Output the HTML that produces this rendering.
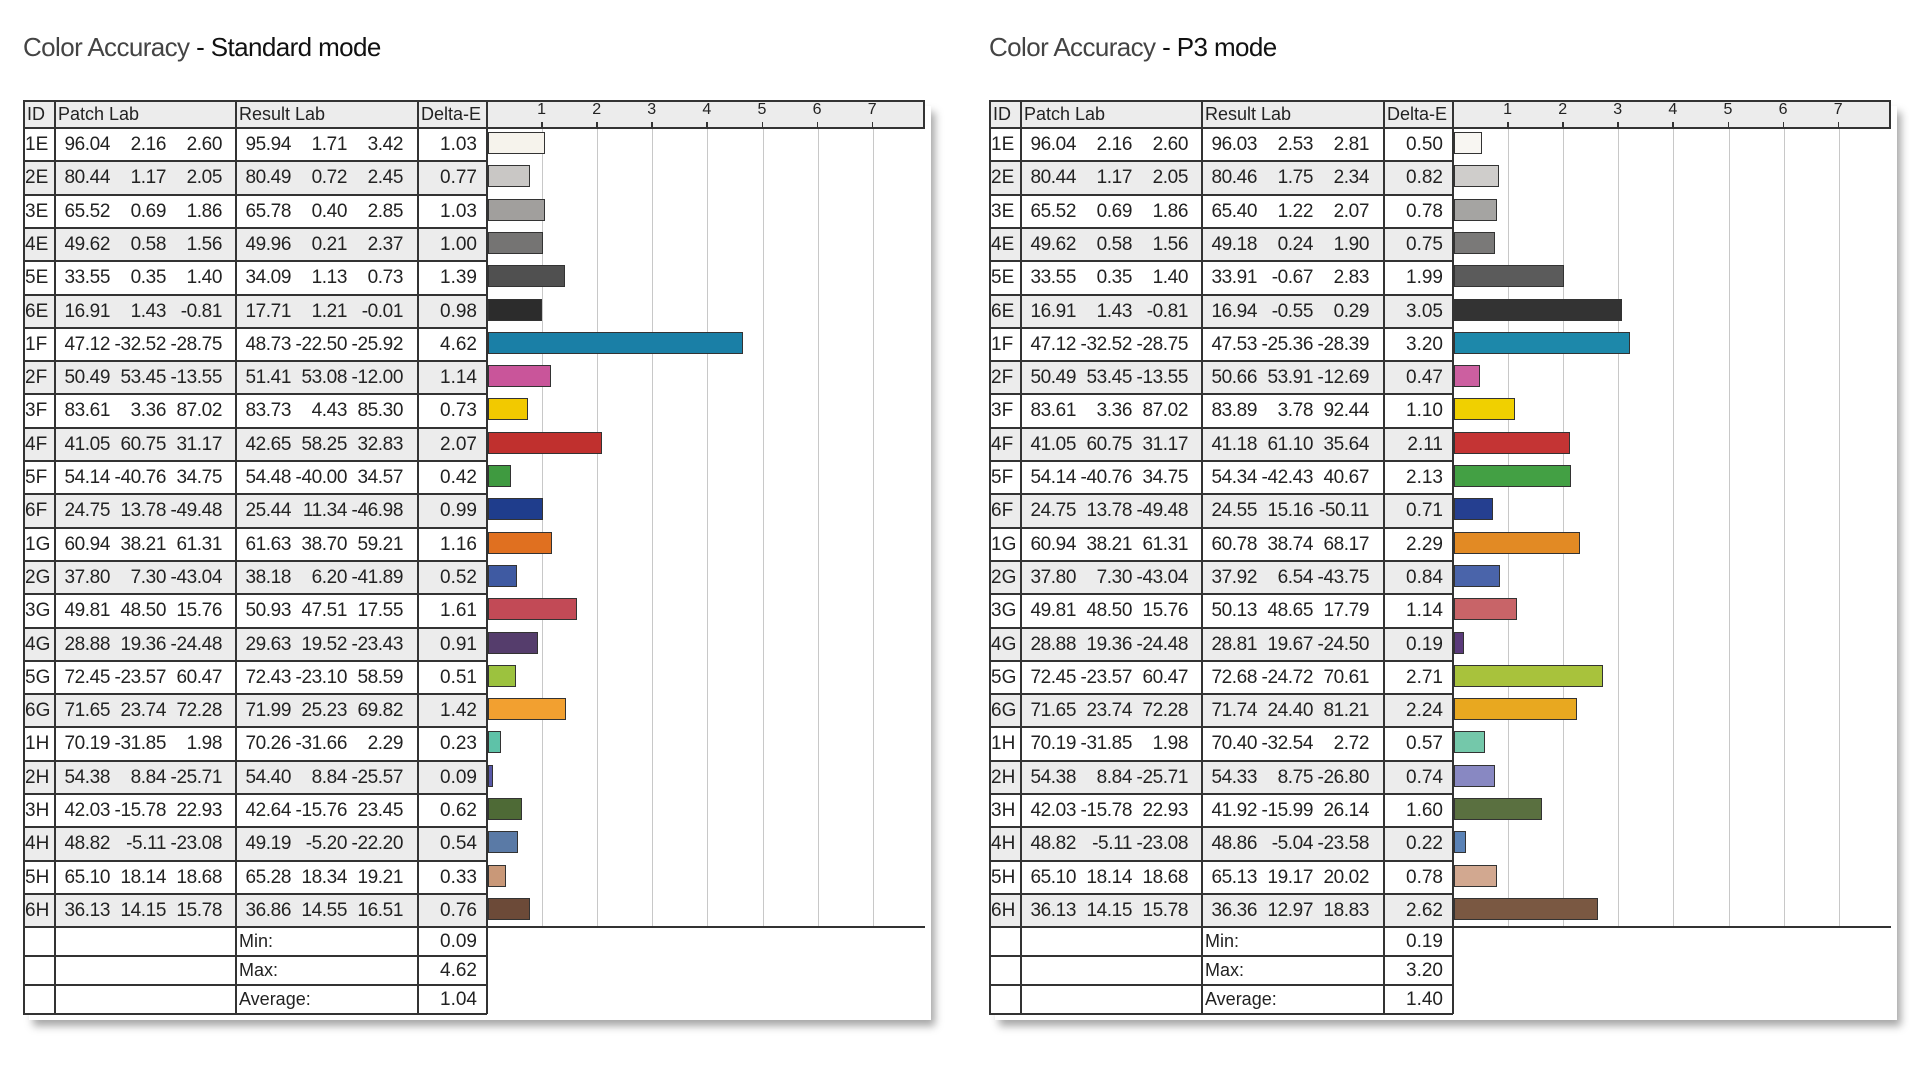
<!DOCTYPE html>
<html><head><meta charset="utf-8"><style>
body{margin:0;width:1910px;height:1074px;background:#fff;position:relative;overflow:hidden;font-family:"Liberation Sans",Arial,sans-serif;color:#222}
.a{position:absolute;white-space:nowrap}
.t{font-size:26px;top:32px;letter-spacing:-0.6px;color:#111}
</style></head><body>
<div class="a t" style="left:23px"><span style="color:#444">Color Accuracy</span> - Standard mode</div>
<div class="a t" style="left:989px"><span style="color:#444">Color Accuracy</span> - P3 mode</div>
<div id="root"></div>
<script>
var ids=["1E","2E","3E","4E","5E","6E","1F","2F","3F","4F","5F","6F","1G","2G","3G","4G","5G","6G","1H","2H","3H","4H","5H","6H"];
var patch=[[96.04,2.16,2.60],[80.44,1.17,2.05],[65.52,0.69,1.86],[49.62,0.58,1.56],[33.55,0.35,1.40],[16.91,1.43,-0.81],[47.12,-32.52,-28.75],[50.49,53.45,-13.55],[83.61,3.36,87.02],[41.05,60.75,31.17],[54.14,-40.76,34.75],[24.75,13.78,-49.48],[60.94,38.21,61.31],[37.80,7.30,-43.04],[49.81,48.50,15.76],[28.88,19.36,-24.48],[72.45,-23.57,60.47],[71.65,23.74,72.28],[70.19,-31.85,1.98],[54.38,8.84,-25.71],[42.03,-15.78,22.93],[48.82,-5.11,-23.08],[65.10,18.14,18.68],[36.13,14.15,15.78]];
var T=[
{x:23,res:[[95.94,1.71,3.42],[80.49,0.72,2.45],[65.78,0.40,2.85],[49.96,0.21,2.37],[34.09,1.13,0.73],[17.71,1.21,-0.01],[48.73,-22.50,-25.92],[51.41,53.08,-12.00],[83.73,4.43,85.30],[42.65,58.25,32.83],[54.48,-40.00,34.57],[25.44,11.34,-46.98],[61.63,38.70,59.21],[38.18,6.20,-41.89],[50.93,47.51,17.55],[29.63,19.52,-23.43],[72.43,-23.10,58.59],[71.99,25.23,69.82],[70.26,-31.66,2.29],[54.40,8.84,-25.57],[42.64,-15.76,23.45],[49.19,-5.20,-22.20],[65.28,18.34,19.21],[36.86,14.55,16.51]],
de:[1.03,0.77,1.03,1.00,1.39,0.98,4.62,1.14,0.73,2.07,0.42,0.99,1.16,0.52,1.61,0.91,0.51,1.42,0.23,0.09,0.62,0.54,0.33,0.76],
col:["#f6f3ec","#c9c7c5","#a19f9d","#757473","#505050","#2c2c2c","#1a7fa6","#c9559a","#f2c900","#c0302e","#3f9a40","#1f3d8c","#e07020","#3f5aa2","#c24a56","#553d6c","#9cc23e","#f2a030","#5ec2a8","#5858a8","#4e6a36","#5a7aa6","#c99878","#6c4a38"],
sum:["0.09","4.62","1.04"]},
{x:989,res:[[96.03,2.53,2.81],[80.46,1.75,2.34],[65.40,1.22,2.07],[49.18,0.24,1.90],[33.91,-0.67,2.83],[16.94,-0.55,0.29],[47.53,-25.36,-28.39],[50.66,53.91,-12.69],[83.89,3.78,92.44],[41.18,61.10,35.64],[54.34,-42.43,40.67],[24.55,15.16,-50.11],[60.78,38.74,68.17],[37.92,6.54,-43.75],[50.13,48.65,17.79],[28.81,19.67,-24.50],[72.68,-24.72,70.61],[71.74,24.40,81.21],[70.40,-32.54,2.72],[54.33,8.75,-26.80],[41.92,-15.99,26.14],[48.86,-5.04,-23.58],[65.13,19.17,20.02],[36.36,12.97,18.83]],
de:[0.50,0.82,0.78,0.75,1.99,3.05,3.20,0.47,1.10,2.11,2.13,0.71,2.29,0.84,1.14,0.19,2.71,2.24,0.57,0.74,1.60,0.22,0.78,2.62],
col:["#f8f6f2","#cfcdcb","#a5a4a2","#7a7978","#5b5b5b","#333333","#1d88aa","#cc5fa0","#f0d000","#c43434","#43a044","#253f90","#e28a24","#4a64aa","#c86468","#5a3a7a","#a8c23c","#e8a820","#74c8aa","#8888c2","#5a7040","#5a82b6","#d2a890","#7a5842"],
sum:["0.19","3.20","1.40"]}];
var h="",TOP=100,HH=28,RH=33.3,SH=29;
function f(v){return v.toFixed(2)}
T.forEach(function(t){
 var x=t.x,c1=x+32,c2=x+213,c3=x+395,c4=x+464,c5=x+902;
 var yEnd=TOP+HH+24*RH, yS=yEnd+3*SH;
 h+='<div class="a" style="left:'+(x+6)+'px;top:'+(TOP+6)+'px;width:'+(c5-x)+'px;height:'+(yS-TOP)+'px;box-shadow:4px 6px 8px rgba(0,0,0,.35);background:#fff"></div>';
 h+='<div class="a" style="left:'+x+'px;top:'+TOP+'px;width:'+(c5-x)+'px;height:'+(yS-TOP)+'px;background:#fff"></div>';
 h+='<div class="a" style="left:'+x+'px;top:'+TOP+'px;width:'+(c5-x)+'px;height:'+HH+'px;background:#ececec"></div>';
 for(var i=0;i<24;i++){var y=TOP+HH+i*RH;
  if(i%2==1)h+='<div class="a" style="left:'+x+'px;top:'+y+'px;width:'+(c4-x)+'px;height:'+RH+'px;background:#ececec"></div>';}
 for(var k=1;k<=7;k++){var gx=c4+k*55.1;
  h+='<div class="a" style="left:'+gx+'px;top:'+(TOP+HH)+'px;width:1px;height:'+(yEnd-TOP-HH)+'px;background:#c8c8c8"></div>';
  h+='<div class="a" style="left:'+(gx-1)+'px;top:'+(TOP+HH-6)+'px;width:1.5px;height:6px;background:#333"></div>';
  h+='<div class="a" style="left:'+(gx-5)+'px;top:'+(TOP+1)+'px;font-size:16px">'+k+'</div>';}
 for(var i=0;i<=24;i++){var y=TOP+HH+i*RH;
  h+='<div class="a" style="left:'+x+'px;top:'+(y-1)+'px;width:'+((i==0||i==24?c5:c4)-x)+'px;height:2px;background:#333"></div>';}
 for(var i=1;i<=3;i++){var y=yEnd+i*SH;
  h+='<div class="a" style="left:'+x+'px;top:'+(y-1)+'px;width:'+(c4-x)+'px;height:2px;background:#333"></div>';}
 h+='<div class="a" style="left:'+x+'px;top:'+TOP+'px;width:'+(c5-x)+'px;height:2px;background:#333"></div>';
 h+='<div class="a" style="left:'+(c5-2)+'px;top:'+TOP+'px;width:2px;height:'+HH+'px;background:#333"></div>';
 [x,c1,c2,c3,c4].forEach(function(cx,j){h+='<div class="a" style="left:'+(cx-(j?1:0))+'px;top:'+TOP+'px;width:2px;height:'+(yS-TOP)+'px;background:#333"></div>';});
 var ty=TOP+4;
 h+='<div class="a" style="left:'+(x+4)+'px;top:'+ty+'px;font-size:18px">ID</div>';
 h+='<div class="a" style="left:'+(c1+3)+'px;top:'+ty+'px;font-size:18px">Patch Lab</div>';
 h+='<div class="a" style="left:'+(c2+3)+'px;top:'+ty+'px;font-size:18px">Result Lab</div>';
 h+='<div class="a" style="left:'+(c3+3)+'px;top:'+ty+'px;font-size:18px">Delta-E</div>';
 for(var i=0;i<24;i++){var y=TOP+HH+i*RH,yt=y+6;
  h+='<div class="a" style="left:'+(x+2)+'px;top:'+yt+'px;font-size:19px">'+ids[i]+'</div>';
  [[c1,patch[i]],[c2,t.res[i]]].forEach(function(p){for(var j=0;j<3;j++){
   h+='<div class="a" style="left:'+(p[0]+1+j*56)+'px;width:54px;text-align:right;top:'+yt+'px;font-size:19px;letter-spacing:-0.4px">'+f(p[1][j])+'</div>';}});
  h+='<div class="a" style="left:'+c3+'px;width:'+(c4-c3-10)+'px;text-align:right;top:'+yt+'px;font-size:19px">'+f(t.de[i])+'</div>';
  var w=t.de[i]*55.1;
  h+='<div class="a" style="left:'+(c4+1)+'px;top:'+(y+4)+'px;height:22px;background:'+t.col[i]+';border:1.5px solid #333;box-sizing:border-box;width:'+Math.max(w,3)+'px"></div>';
 }
 ["Min:","Max:","Average:"].forEach(function(s,i){var y=yEnd+i*SH+4;
  h+='<div class="a" style="left:'+(c2+3)+'px;top:'+y+'px;font-size:18px">'+s+'</div>';
  h+='<div class="a" style="left:'+c3+'px;width:'+(c4-c3-10)+'px;text-align:right;top:'+y+'px;font-size:19px">'+t.sum[i]+'</div>';});
});
document.getElementById("root").innerHTML=h;
</script>
</body></html>
